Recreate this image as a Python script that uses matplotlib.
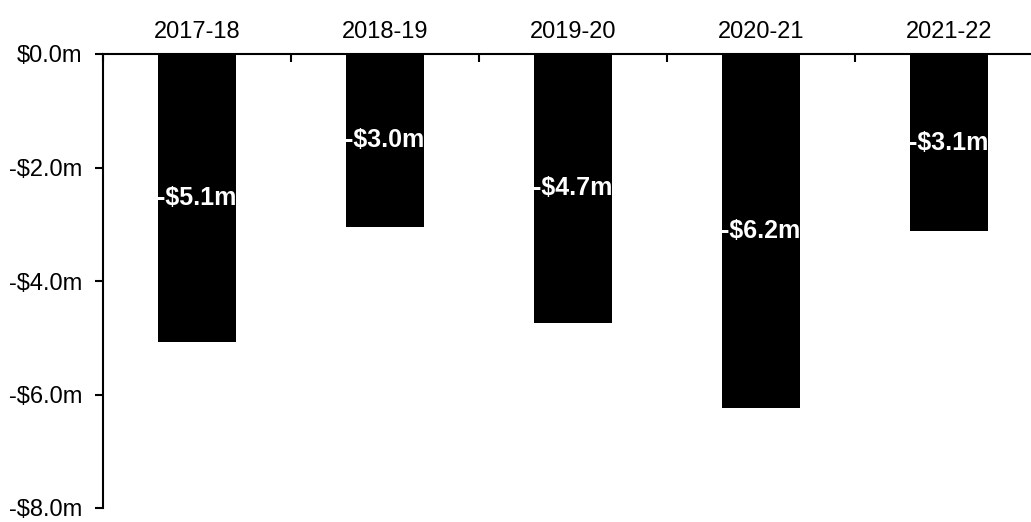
import matplotlib
matplotlib.use("Agg")
import matplotlib.pyplot as plt
import numpy as np

# Chart data
years = ["2017-18", "2018-19", "2019-20", "2020-21", "2021-22"]
values = [-5.08, -3.04, -4.74, -6.24, -3.12]
y_ticks = [0, -2, -4, -6, -8]

plt.rcParams['font.family'] = ['Liberation Sans', 'DejaVu Sans']

fig = plt.figure(figsize=(10.31, 5.22), dpi=100)
ax = fig.add_axes([103 / 1031, 1 - 508 / 522, 1 - 103 / 1031, (508 - 54) / 522])

x = np.arange(len(years))
bars = ax.bar(x, values, width=0.41, color="black")

# White value labels in the middle of each bar
for xi, v in zip(x, values):
    ax.text(xi, v / 2, "-${:.1f}m".format(abs(v)), color="white", fontsize=18,
            fontweight="bold", ha="center", va="center")

ax.set_ylim(-8, 0)
ax.set_xlim(-0.5, 4.5 - 12 / 188)
ax.set_yticks(y_ticks)
ax.set_yticklabels(["$0.0m" if t == 0 else "-${:.1f}m".format(abs(t)) for t in y_ticks])

# Category labels on top, tick marks between categories
ax.xaxis.tick_top()
ax.set_xticks(x)
ax.set_xticklabels(years)
ax.set_xticks(np.arange(len(years)) - 0.5, minor=True)
ax.tick_params(axis="x", which="major", length=0, pad=8, labelsize=17)
ax.tick_params(axis="x", which="minor", direction="in", length=6, width=1.5, top=True, bottom=False)
ax.tick_params(axis="y", which="major", direction="out", length=6, width=1.5, labelsize=17, pad=9)

for side in ["right", "bottom"]:
    ax.spines[side].set_visible(False)
ax.spines["left"].set_linewidth(1.5)
ax.spines["top"].set_linewidth(1.5)

fig.savefig("out.png", dpi=100)
